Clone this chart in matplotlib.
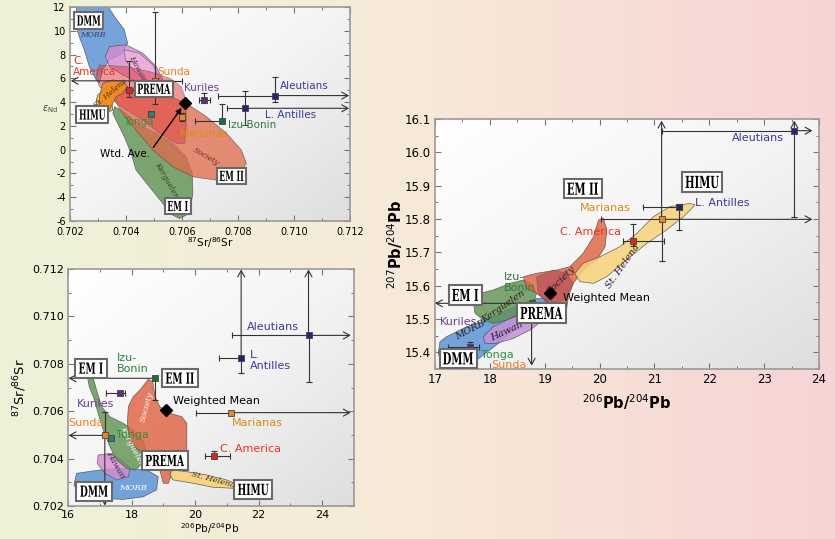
"""
Sr-Nd-Pb isotope diagrams: arc lava averages against mantle end-members.
Three panels (eNd vs 87Sr/86Sr, 87Sr/86Sr vs 206Pb/204Pb, 207Pb vs 206Pb).
"""
import numpy as np
import matplotlib
matplotlib.use("Agg")
import matplotlib.pyplot as plt
from matplotlib.patches import Polygon, PathPatch
from matplotlib.textpath import TextPath
from matplotlib.font_manager import FontProperties
from matplotlib.offsetbox import AuxTransformBox, AnnotationBbox
from matplotlib.transforms import Affine2D
from matplotlib.colors import LinearSegmentedColormap
from matplotlib.ticker import MultipleLocator, FormatStrFormatter

INF = np.inf
DPI = 100

# ---------------------------------------------------------------- data
ARCS = ["C. America", "Sunda", "Tonga", "Marianas", "Kuriles",
        "Izu-Bonin", "L. Antilles", "Aleutians"]

# panel A: 87Sr/86Sr (x) vs eNd (y)
A_X = [0.7041, 0.70503, 0.7049, 0.70601, 0.70677, 0.70743, 0.70825, 0.70933]
A_Y = [5.03, 5.79, 3.03, 2.72, 4.18, 2.44, 3.48, 4.55]
A_XLO = [0.7040, -INF, 0.70485, 0.70601, 0.7066, 0.70648, 0.70762, 0.70728]
A_XHI = [0.7043, 0.7060, 0.70495, 0.70601, 0.7070, 0.70743, INF, INF]
A_YLO = [4.44, 3.82, 2.85, 2.40, 3.90, 2.44, 2.08, 4.02]
A_YHI = [7.47, 11.6, 3.20, 3.10, 4.75, 3.82, 4.94, 6.10]
A_MEAN = (0.7061, 3.9)

# panel B: 206Pb/204Pb (x) vs 87Sr/86Sr (y)
B_X = [20.6, 17.16, 17.35, 21.12, 17.64, 18.75, 21.45, 23.57]
B_Y = [0.70412, 0.70498, 0.70488, 0.70594, 0.70676, 0.70739, 0.70823, 0.70920]
B_XLO = [20.3, -INF, 17.35, 20.02, 17.2, -INF, 20.75, 21.15]
B_XHI = [21.1, 17.16, 17.35, INF, 17.79, 18.75, 21.45, INF]
B_YLO = [0.70404, -INF, 0.70488, 0.70594, 0.70676, 0.70647, 0.70762, 0.70724]
B_YHI = [0.70432, 0.70595, 0.70488, 0.70594, 0.70676, 0.70739, INF, INF]
B_MEAN = (19.09, 0.70605)

# panel C: 206Pb/204Pb (x) vs 207Pb/204Pb (y)
C_X = [20.6, 17.16, 17.33, 21.13, 17.63, 18.76, 21.45, 23.55]
C_Y = [15.735, 15.365, 15.369, 15.799, 15.415, 15.547, 15.837, 16.065]
C_XLO = [20.42, 17.16, 17.33, 20.02, 17.23, -INF, 20.79, 21.13]
C_XHI = [21.17, 17.16, 17.33, INF, 17.81, 18.76, 21.50, INF]
C_YLO = [15.719, 15.365, 15.369, 15.675, 15.40, -INF, 15.767, 15.805]
C_YHI = [15.785, 15.365, 15.369, INF, 15.432, 15.547, 15.844, INF]
C_MEAN = (19.10, 15.579)

# mantle reservoir fields (outline vertices)
A_MORB = [(0.70224, 12.3), (0.70329, 12.3), (0.70359, 11.2), (0.70394, 10.1),
          (0.70406, 8.96), (0.70388, 8.1), (0.70341, 7.56), (0.70317, 6.7),
          (0.70305, 5.6), (0.70293, 5.9), (0.70269, 7.0), (0.70251, 8.4),
          (0.70233, 9.5), (0.70219, 10.6)]
A_HAWAII = [(0.70341, 8.68), (0.70400, 8.82), (0.70460, 8.12), (0.70508, 7.0),
            (0.70532, 5.87), (0.70508, 5.31), (0.70448, 5.59), (0.70388, 6.29),
            (0.70341, 7.0), (0.70326, 7.83)]
A_HAWAII_IN = [(0.70394, 8.4), (0.70448, 8.12), (0.70496, 7.13), (0.70520, 6.01),
               (0.70508, 5.45), (0.70472, 5.87), (0.70424, 6.71), (0.70398, 7.56)]
A_RED = [(0.70305, 7.13), (0.70400, 6.99), (0.70484, 6.57), (0.70556, 6.01),
         (0.70597, 5.31), (0.70615, 4.18), (0.70615, 1.93), (0.70609, 0.53),
         (0.70580, 0.53), (0.70520, 1.38), (0.70460, 2.5), (0.70400, 3.34),
         (0.70353, 4.18), (0.70305, 5.31), (0.70293, 6.15)]
A_SOCIETY = [(0.70365, 5.03), (0.70448, 5.17), (0.70544, 4.61), (0.70615, 3.91),
             (0.70687, 2.78), (0.70759, 1.38), (0.70812, -0.03), (0.70830, -1.15),
             (0.70806, -2.14), (0.70723, -2.56), (0.70639, -2.28), (0.70567, -1.44),
             (0.70496, -0.03), (0.70436, 1.65), (0.70388, 3.06), (0.70359, 4.18)]
A_KERGUELEN = [(0.70359, 3.62), (0.70400, 3.06), (0.70460, 1.93), (0.70508, 1.38),
               (0.70567, 0.53), (0.70615, -0.6), (0.70637, -2.0), (0.70639, -3.68),
               (0.70627, -5.37), (0.70591, -5.79), (0.70556, -5.37), (0.70532, -4.53),
               (0.70484, -3.13), (0.70436, -1.72), (0.70418, -0.31), (0.70394, 1.09),
               (0.70370, 2.22), (0.70353, 3.06)]
A_HIMU = [(0.70299, 4.6), (0.70329, 5.17), (0.70348, 4.18), (0.70353, 3.34),
          (0.70329, 3.06), (0.70299, 3.48), (0.70294, 4.18)]
A_STHELENA = [(0.70317, 5.59), (0.70353, 5.87), (0.70388, 5.73), (0.70406, 5.31),
              (0.70388, 4.75), (0.70365, 4.46), (0.70353, 3.91), (0.70341, 3.34),
              (0.70317, 3.2), (0.70305, 3.62), (0.70305, 4.46)]

B_MORB = [(16.27, 0.70338), (17.01, 0.70352), (17.85, 0.70359), (18.48, 0.70352),
          (18.84, 0.70324), (18.79, 0.70268), (18.37, 0.70239), (17.74, 0.70228),
          (17.01, 0.70232), (16.38, 0.70246), (16.19, 0.70289)]
B_HAWAII = [(16.95, 0.70415), (17.32, 0.70422), (17.69, 0.70394), (17.95, 0.70359),
            (17.90, 0.70324), (17.53, 0.70310), (17.16, 0.70338), (16.92, 0.70380)]
B_KERGUELEN = [(16.61, 0.70746), (16.78, 0.70746), (16.90, 0.70690), (17.06, 0.70619),
               (17.32, 0.70577), (17.74, 0.70549), (18.05, 0.70521), (18.37, 0.70478),
               (18.48, 0.70422), (18.37, 0.70380), (18.11, 0.70352), (17.85, 0.70359),
               (17.53, 0.70394), (17.32, 0.70450), (17.11, 0.70521), (16.95, 0.70591),
               (16.80, 0.70661), (16.67, 0.70703)]
B_SOCIETY = [(18.27, 0.70690), (18.53, 0.70735), (18.67, 0.70724), (18.74, 0.70661),
             (18.89, 0.70619), (19.21, 0.70591), (19.58, 0.70577), (19.74, 0.70549),
             (19.74, 0.70436), (19.63, 0.70380), (19.31, 0.70352), (19.16, 0.70296),
             (19.00, 0.70296), (18.89, 0.70352), (18.68, 0.70380), (18.48, 0.70422),
             (18.21, 0.70436), (17.95, 0.70478), (17.87, 0.70549), (17.90, 0.70619),
             (18.05, 0.70661)]
B_STHELENA = [(19.26, 0.70352), (19.74, 0.70345), (20.36, 0.70331), (20.99, 0.70310),
              (21.25, 0.70296), (21.20, 0.70275), (20.57, 0.70279), (19.94, 0.70296),
              (19.31, 0.70310), (19.21, 0.70331)]

C_MORB = [(17.09, 15.432), (17.21, 15.447), (17.58, 15.477), (17.94, 15.497),
          (18.31, 15.527), (18.61, 15.547), (18.85, 15.562), (19.04, 15.562),
          (19.07, 15.547), (18.85, 15.522), (18.55, 15.487), (18.31, 15.447),
          (18.00, 15.407), (17.76, 15.377), (17.40, 15.357), (17.12, 15.362),
          (17.06, 15.397)]
C_KERGUELEN = [(17.70, 15.547), (17.82, 15.577), (18.06, 15.587), (18.37, 15.607),
               (18.61, 15.617), (18.76, 15.607), (18.85, 15.577), (18.79, 15.547),
               (18.55, 15.517), (18.31, 15.497), (18.06, 15.487), (17.88, 15.497),
               (17.73, 15.517)]
C_HAWAII = [(17.88, 15.447), (18.06, 15.477), (18.31, 15.497), (18.61, 15.517),
            (18.91, 15.532), (19.07, 15.527), (18.97, 15.497), (18.73, 15.467),
            (18.43, 15.442), (18.12, 15.427), (17.91, 15.427)]
C_EM2 = [(18.61, 15.627), (18.85, 15.637), (19.22, 15.647), (19.46, 15.657),
         (19.70, 15.697), (19.89, 15.747), (19.98, 15.797), (20.07, 15.802),
         (20.13, 15.767), (20.10, 15.717), (19.95, 15.677), (19.70, 15.647),
         (19.52, 15.607), (19.43, 15.567), (19.40, 15.532), (19.22, 15.527),
         (19.10, 15.547), (18.85, 15.577), (18.67, 15.592)]
C_SOCIETY = [(18.85, 15.627), (19.16, 15.647), (19.40, 15.637), (19.52, 15.607),
             (19.40, 15.567), (19.22, 15.537), (19.04, 15.547), (18.88, 15.577)]
C_STHELENA = [(19.55, 15.637), (19.70, 15.667), (20.01, 15.687), (20.37, 15.717),
              (20.68, 15.757), (20.98, 15.807), (21.28, 15.837), (21.65, 15.847),
              (21.74, 15.842), (21.53, 15.807), (21.22, 15.767), (20.86, 15.727),
              (20.49, 15.677), (20.13, 15.627), (19.89, 15.607), (19.64, 15.612)]

# reservoir boxes: (name, x, y)
A_BOXES = [("DMM", 0.70267, 10.87), ("HIMU", 0.7028, 2.95), ("PREMA", 0.705, 5.12),
           ("EM II", 0.70777, -2.2), ("EM I", 0.70585, -4.74)]
B_BOXES = [("EM I", 16.72, 0.70782), ("EM II", 19.52, 0.7074), ("PREMA", 19.05, 0.70392),
           ("DMM", 16.82, 0.70263), ("HIMU", 21.83, 0.7027)]
C_BOXES = [("EM II", 19.69, 15.891), ("HIMU", 21.87, 15.911), ("EM I", 17.55, 15.572),
           ("PREMA", 18.94, 15.518), ("DMM", 17.42, 15.382)]

# ---------------------------------------------------------------- style
MARKER_COLORS = ["#d8281c", "#f0821e", "#2c7f78", "#e08a28", "#5c2f7a",
                 "#1f6b3a", "#24246e", "#24247a"]
LABEL_COLORS = {"C. America": "#e8341e", "Sunda": "#f07e22", "Tonga": "#2f8f3f",
                "Marianas": "#dc8a1a", "Kuriles": "#6b3d98", "Izu-Bonin": "#2a7d3c",
                "L. Antilles": "#3a3a98", "Aleutians": "#3a3a98", "mean": "black"}
BLUE, PINK, PINK2 = "#5d95d5", "#d58ad0", "#f2b6df"
RED, SALMON, GREEN = "#e03c3c", "#e0694a", "#5f9150"
ORANGE, YELLOW, PALE = "#f08a1c", "#f8c630", "#f8d27a"

SANS = ["DejaVu Sans"]
SERIF = ["DejaVu Serif"]
LINE = "#333333"
BOX_FONT = FontProperties(family="DejaVu Serif", weight="bold")

plt.rcParams["font.family"] = SANS


def add_fields(ax, fields):
    for verts, color, alpha in fields:
        ax.add_patch(Polygon(verts, closed=True, fc=color, ec=(0.3, 0.3, 0.3, 0.35),
                             lw=0.5, alpha=alpha, zorder=2))


def add_points(ax, xs, ys, xlo, xhi, ylo, yhi, reach):
    rx0, rx1, ry0, ry1 = reach
    for i in range(len(xs)):
        x, y = xs[i], ys[i]
        ends = [(xlo[i], rx0, True), (xhi[i], rx1, True),
                (ylo[i], ry0, False), (yhi[i], ry1, False)]
        for end, lim, horiz in ends:
            if np.isinf(end):
                tip = (lim, y) if horiz else (x, lim)
                ax.annotate("", xy=tip, xytext=(x, y), zorder=4,
                            arrowprops=dict(arrowstyle="->,head_length=0.45,head_width=0.25",
                                            lw=0.8, color=LINE, shrinkA=0, shrinkB=0))
            elif end != (x if horiz else y):
                if horiz:
                    ax.plot([x, end], [y, y], color=LINE, lw=0.8, zorder=4)
                    ax.plot(end, y, marker="|", ms=5, mew=0.8, color=LINE, zorder=4)
                else:
                    ax.plot([x, x], [y, end], color=LINE, lw=0.8, zorder=4)
                    ax.plot(x, end, marker="_", ms=5, mew=0.8, color=LINE, zorder=4)
        ax.plot(x, y, "s", ms=4.5, mfc=MARKER_COLORS[i], mec="#444", mew=0.6, zorder=5)


def add_boxes(ax, boxes, size, squeeze, pad):
    # condensed heavy serif lettering in framed white boxes
    for name, x, y in boxes:
        path = TextPath((0, 0), name, size=size, prop=BOX_FONT)
        aux = AuxTransformBox(Affine2D().scale(squeeze * DPI / 72, DPI / 72))
        aux.add_artist(PathPatch(path, fc="black", lw=0))
        ab = AnnotationBbox(aux, (x, y), xycoords="data", frameon=True, zorder=6,
                            bboxprops=dict(boxstyle=f"square,pad={pad}",
                                           fc="white", ec="#6a6a6a", lw=1.5))
        ax.add_artist(ab)


def add_labels(ax, labels, size):
    for text, key, x, y in labels:
        ax.text(x, y, text, ha="left", va="center", fontsize=size,
                color=LABEL_COLORS[key], linespacing=1.15, zorder=6)


def add_field_names(ax, names, size):
    for text, x, y, rot, color in names:
        ax.text(x, y, text, ha="center", va="center", fontsize=size, rotation=rot,
                style="italic", family=SERIF, color=color, zorder=3)


def style_axes(ax, xlim, ylim, xmaj, ymaj, xfmt, yfmt, size, xpad=3):
    grad = np.add.outer(np.linspace(0, 1, 200), np.linspace(0, 1, 200)) / 2
    cmap = LinearSegmentedColormap.from_list("panel", ["#ffffff", "#f4f4f4", "#dedede"])
    ax.imshow(grad, extent=[xlim[0], xlim[1], ylim[0], ylim[1]], origin="upper",
              cmap=cmap, aspect="auto", zorder=0)
    ax.set_xlim(xlim)
    ax.set_ylim(ylim)
    ax.xaxis.set_major_locator(MultipleLocator(xmaj))
    ax.xaxis.set_minor_locator(MultipleLocator(xmaj / 2))
    ax.yaxis.set_major_locator(MultipleLocator(ymaj))
    ax.yaxis.set_minor_locator(MultipleLocator(ymaj / 2))
    ax.xaxis.set_major_formatter(FormatStrFormatter(xfmt))
    ax.yaxis.set_major_formatter(FormatStrFormatter(yfmt))
    ax.tick_params(which="both", direction="in", top=True, right=True, color="#777777",
                   labelsize=size, pad=3)
    ax.tick_params(axis="x", pad=xpad)
    ax.tick_params(which="major", length=4, width=0.8)
    ax.tick_params(which="minor", length=2.5, width=0.7)
    for sp in ax.spines.values():
        sp.set_color("#9a9a9a")
        sp.set_linewidth(1.2)


fig = plt.figure(figsize=(8.35, 5.39), dpi=DPI)

# background gradient: pale yellow-green (left) to pink (right)
bg = fig.add_axes([0, 0, 1, 1], zorder=-10)
bg_cmap = LinearSegmentedColormap.from_list("bg", ["#eef2d9", "#f8e9d8", "#f6d4d4"])
bg.imshow(np.tile(np.linspace(0, 1, 300), (10, 1)), extent=[0, 1, 0, 1],
          cmap=bg_cmap, aspect="auto")
bg.axis("off")

# ---------------------------------------------------------------- panel A
ax1 = fig.add_axes([0.0838, 0.590, 0.3353, 0.397])
style_axes(ax1, (0.702, 0.712), (-6, 12), 0.002, 2, "%.3f", "%d", 7, xpad=4)
add_fields(ax1, [(A_MORB, BLUE, 0.85), (A_HAWAII, PINK, 0.8), (A_HAWAII_IN, PINK2, 0.7),
                 (A_KERGUELEN, GREEN, 0.8), (A_SOCIETY, SALMON, 0.75),
                 (A_RED, RED, 0.5), (A_HIMU, YELLOW, 0.95), (A_STHELENA, ORANGE, 0.9)])
add_field_names(ax1, [("MORB", 0.70281, 9.66, 0, "#334466"),
                      ("Hawaii", 0.70442, 6.9, -62, "#553344"),
                      ("St. Helena", 0.70345, 4.7, 40, "#553311"),
                      ("Society", 0.70687, -0.6, -30, "#663322"),
                      ("Kerguelen", 0.70544, -2.56, -60, "#334422")], 5.5)
add_points(ax1, A_X, A_Y, A_XLO, A_XHI, A_YLO, A_YHI, (0.70203, 0.71197, -6, 12))
ax1.plot(*A_MEAN, "D", ms=6, color="black", zorder=5)
ax1.annotate("", xy=A_MEAN, xytext=(0.70498, 0.2), zorder=5,
             arrowprops=dict(arrowstyle="-|>", lw=1.0, color="black",
                             mutation_scale=8, shrinkA=0, shrinkB=4))
add_boxes(ax1, A_BOXES, 10, 0.56, 0.22)
add_labels(ax1, [("C.\nAmerica", "C. America", 0.70212, 7.0),
                 ("Sunda", "Sunda", 0.70513, 6.57),
                 ("Kuriles", "Kuriles", 0.70609, 5.22),
                 ("Aleutians", "Aleutians", 0.7095, 5.39),
                 ("L. Antilles", "L. Antilles", 0.70896, 2.9),
                 ("Izu-Bonin", "Izu-Bonin", 0.70763, 2.05),
                 ("Tonga", "Tonga", 0.70391, 2.3),
                 ("Marianas", "Marianas", 0.70592, 1.32),
                 ("Wtd. Ave.", "mean", 0.70307, -0.37)], 7.5)
fig.text(50 / 835, 1 - 109 / 539, r"$\epsilon_{\rm Nd}$", fontsize=7, color="#444",
         ha="center", va="center")
fig.text(210 / 835, 1 - 243 / 539, r"$^{87}$Sr/$^{86}$Sr", fontsize=7.5,
         ha="center", va="center")

# ---------------------------------------------------------------- panel B
ax2 = fig.add_axes([0.0814, 0.0612, 0.3425, 0.4397])
style_axes(ax2, (16, 25), (0.702, 0.712), 2, 0.002, "%d", "%.3f", 8)
add_fields(ax2, [(B_MORB, BLUE, 0.85), (B_HAWAII, PINK, 0.8), (B_KERGUELEN, GREEN, 0.8),
                 (B_SOCIETY, SALMON, 0.85), (B_STHELENA, PALE, 0.9)])
add_field_names(ax2, [("Society", 18.48, 0.70619, 75, "white"),
                      ("Kerguelen", 18.0, 0.7045, -62, "white"),
                      ("Hawaii", 17.48, 0.70373, -60, "#442244"),
                      ("MORB", 18.05, 0.70275, 0, "white"),
                      ("St. Helena", 20.57, 0.7031, -15, "#443311")], 6)
add_points(ax2, B_X, B_Y, B_XLO, B_XHI, B_YLO, B_YHI, (16.02, 24.9, 0.70202, 0.71198))
ax2.plot(*B_MEAN, "D", ms=6, color="black", zorder=5)
add_boxes(ax2, B_BOXES, 11, 0.6, 0.28)
add_labels(ax2, [("Aleutians", "Aleutians", 21.64, 0.70954),
                 ("L.\nAntilles", "L. Antilles", 21.71, 0.70815),
                 ("Izu-\nBonin", "Izu-Bonin", 17.53, 0.708),
                 ("Kuriles", "Kuriles", 16.29, 0.7063),
                 ("Weighted Mean", "mean", 19.31, 0.70643),
                 ("Marianas", "Marianas", 21.15, 0.70549),
                 ("Sunda", "Sunda", 16.01, 0.70549),
                 ("Tonga", "Tonga", 17.51, 0.70498),
                 ("C. America", "C. America", 20.78, 0.70441)], 8)
fig.text(210 / 835, 1 - 529 / 539, r"$^{206}$Pb/$^{204}$Pb", fontsize=7.5,
         ha="center", va="center")
fig.text(20 / 835, 1 - 388 / 539, r"$^{87}$Sr/$^{86}$Sr", fontsize=9.5,
         ha="center", va="center", rotation=90)

# ---------------------------------------------------------------- panel C
ax3 = fig.add_axes([0.521, 0.3154, 0.4599, 0.4638])
style_axes(ax3, (17, 24), (15.35, 16.1), 1, 0.1, "%d", "%.1f", 8.5)
add_fields(ax3, [(C_MORB, BLUE, 0.85), (C_KERGUELEN, GREEN, 0.8), (C_HAWAII, "#c890d8", 0.85),
                 (C_EM2, SALMON, 0.85), (C_SOCIETY, "#9a3a5a", 0.45),
                 (C_STHELENA, PALE, 0.85)])
add_field_names(ax3, [("Society", 19.31, 15.617, 45, "#222222"),
                      ("Kerguelen", 18.25, 15.537, 35, "#222222"),
                      ("MORB", 17.64, 15.467, 28, "#222222"),
                      ("Hawaii", 18.31, 15.462, 25, "#222222"),
                      ("St. Helena", 20.43, 15.657, 55, "#222222")], 7)
add_points(ax3, C_X, C_Y, C_XLO, C_XHI, C_YLO, C_YHI, (17.0, 23.88, 15.36, 16.095))
ax3.plot(*C_MEAN, "D", ms=6, color="black", zorder=5)
add_boxes(ax3, C_BOXES, 12, 0.6, 0.26)
add_labels(ax3, [("Aleutians", "Aleutians", 22.41, 16.042),
                 ("L. Antilles", "L. Antilles", 21.74, 15.847),
                 ("Marianas", "Marianas", 19.64, 15.832),
                 ("C. America", "C. America", 19.28, 15.762),
                 ("Weighted Mean", "mean", 19.34, 15.562),
                 ("Izu-\nBonin", "Izu-Bonin", 18.26, 15.61),
                 ("Kuriles", "Kuriles", 17.08, 15.491),
                 ("Tonga", "Tonga", 17.83, 15.392),
                 ("Sunda", "Sunda", 18.03, 15.362)], 8)
fig.text(627 / 835, 1 - 402 / 539, r"$^{206}$Pb/$^{204}$Pb", fontsize=10.5,
         fontweight="bold", ha="center", va="center")
fig.text(395 / 835, 1 - 244 / 539, r"$^{207}$Pb/$^{204}$Pb", fontsize=10.5,
         fontweight="bold", ha="center", va="center", rotation=90)

fig.savefig("out.png", dpi=DPI)
